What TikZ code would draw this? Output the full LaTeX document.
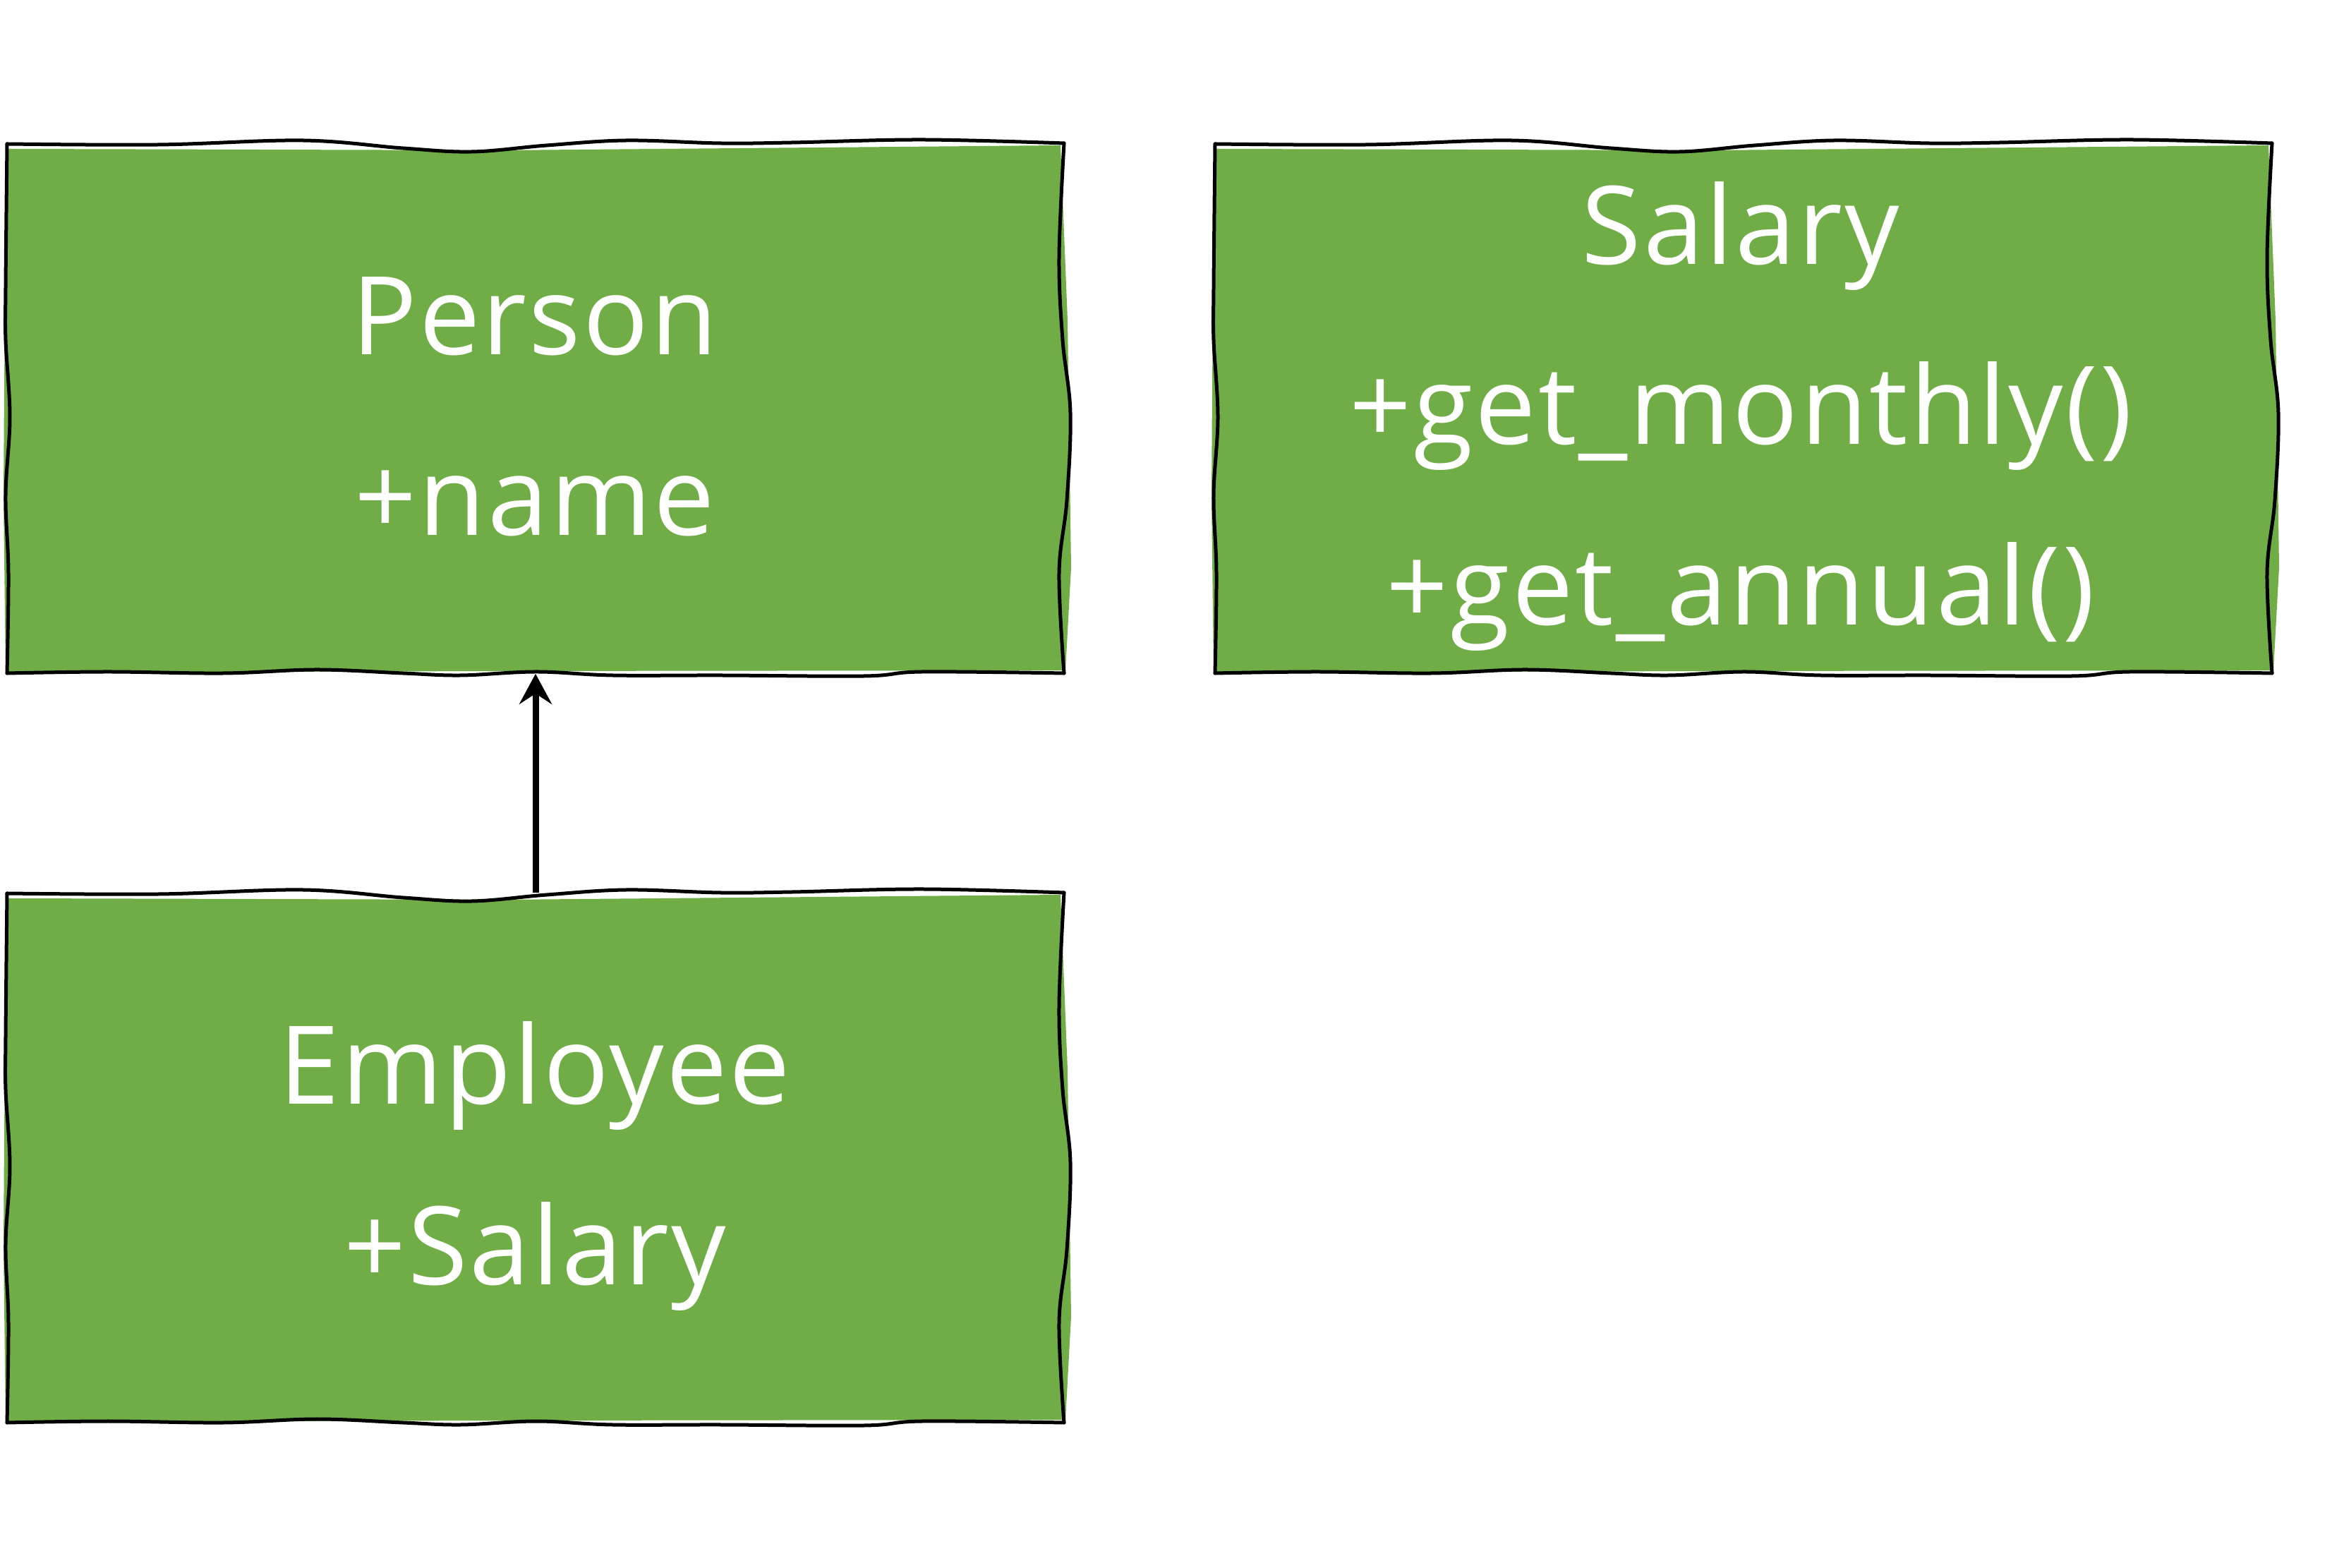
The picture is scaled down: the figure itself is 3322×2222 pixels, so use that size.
\documentclass[tikz,border=0pt]{standalone}
\usepackage{fontspec}
\setmainfont[LetterSpace=2]{Open Sans}
\usetikzlibrary{arrows.meta}
\definecolor{boxgreen}{RGB}{112,173,71}
\tikzset{
  x=0.25pt, y=-0.25pt,
  outline/.style={draw=black, line width=1.25pt, line cap=round, line join=round},
  boxfill/.style={fill=boxgreen, draw=none},
  classtext/.style={text=white, font=\fontsize{38.5}{46}\selectfont, anchor=base, inner sep=0pt},
  classbox/.style={draw=none, inner sep=0pt, minimum width=374.5pt, minimum height=187.5pt},
  inherit/.style={line width=2.25pt, -{Stealth[length=10.75pt, width=11.5pt, inset=3.75pt]}}
}
\newcommand{\wavybox}[2]{%
  \begin{scope}[shift={(#1,#2)}]
    \fill[boxfill] (1,7) -- (700,9) -- (1493,2) -- (1503,250) -- (1508,600) -- (1500,746) -- (700,747) -- (-2,749) -- (-5,500) -- (-3,200) -- cycle;
    \draw[outline] plot[smooth, tension=0.6] coordinates {(0,0) (215,1) (419,-5) (561,6) (659,11) (765,2) (878,-5) (1011,-1) (1113,-2) (1297,-6) (1498,-1)};
    \draw[outline] plot[smooth, tension=0.6] coordinates {(1498,-1) (1491,160) (1496,278) (1507,381) (1502,505) (1491,608) (1498,750)};
    \draw[outline] plot[smooth, tension=0.6] coordinates {(1498,750) (1297,748) (1215,754) (1011,753) (858,753) (750,748) (643,753) (561,750) (439,745) (307,750) (143,748) (0,750)};
    \draw[outline] plot[smooth, tension=0.6] coordinates {(0,750) (2,608) (-2,498) (4,387) (-2,278) (-2,204) (0,0)};
  \end{scope}}
\begin{document}
\begin{tikzpicture}
  \useasboundingbox[fill=white] (0,0) rectangle (3322,2222);
  % boxes
  \wavybox{10}{204}
  \wavybox{1722}{204}
  \wavybox{10}{1266}
  \node[classbox] (person) at (759,579) {};
  \node[classbox] (salary) at (2471,579) {};
  \node[classbox] (employee) at (759,1641) {};
  % texts
  \node[classtext] (personname) at (758,503) {Person};
  \node[classtext] (personattr) at (758,759) {+name};
  \node[classtext] (salaryname) at (2467,375) {Salary};
  \node[classtext] (salarym1) at (2467,630) {+get\_monthly()};
  \node[classtext] (salarym2) at (2467,886) {+get\_annual()};
  \node[classtext] (employeename) at (758,1565) {Employee};
  \node[classtext] (employeeattr) at (758,1821) {+Salary};
  % inheritance
  \draw[inherit] (employee.north) -- (person.south);
\end{tikzpicture}
\end{document}
